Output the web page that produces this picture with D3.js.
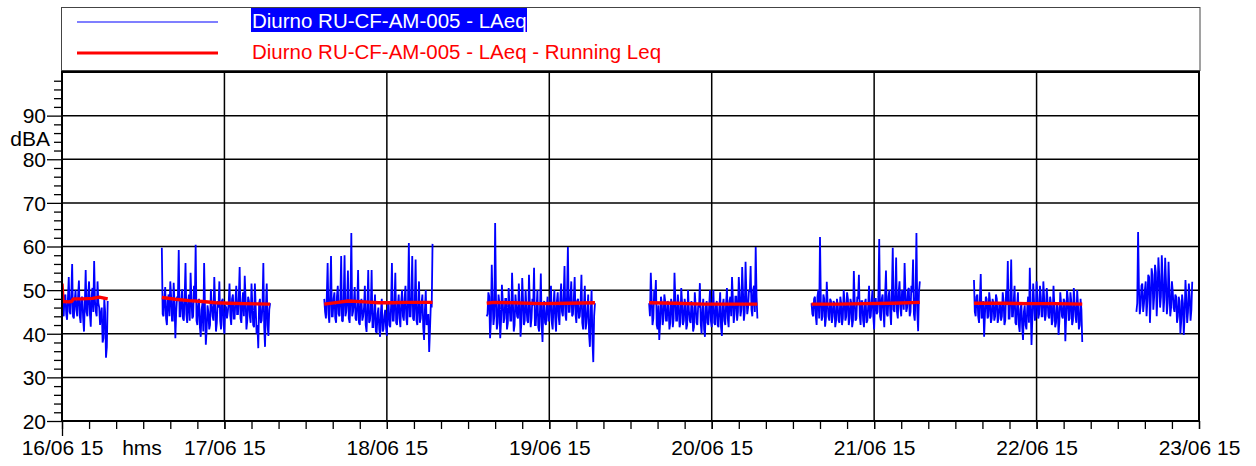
<!DOCTYPE html>
<html>
<head>
<meta charset="utf-8">
<script src="https://cdn.jsdelivr.net/npm/d3@7"></script>
<style>
  body { margin: 0; background: #fff; }
  svg { display: block; font-family: "Liberation Sans", Arial, sans-serif; }
</style>
</head>
<body>
<svg id="chart" width="1256" height="466"></svg>
<script>
// ---- data ----
const legendLabels = ["Diurno RU-CF-AM-005 - LAeq", "Diurno RU-CF-AM-005 - LAeq - Running Leq"];
const yTicks = [20, 30, 40, 50, 60, 70, 80, 90];
const dayTicks = ["2015-06-16", "2015-06-17", "2015-06-18", "2015-06-19", "2015-06-20", "2015-06-21", "2015-06-22", "2015-06-23"];
const sampleStepMin = 15;

// start of each measurement block
const segStarts = ["2015-06-16T00:00", "2015-06-16T14:45", "2015-06-17T14:45", "2015-06-18T14:45",
  "2015-06-19T14:45", "2015-06-20T14:45", "2015-06-21T14:45", "2015-06-22T14:45"];

// LAeq samples on the quarter hour, one array per block
const laeq1 = [51.5, 44.0, 49.0, 43.2, 53.0, 44.5, 56.0, 43.5, 50.0, 44.0, 52.2, 42.5, 48.5, 40.5, 54.6, 44.0, 52.0, 41.6, 50.5, 56.7, 45.0, 52.0, 46.0, 44.5, 38.0, 48.0, 34.5, 47.5];
const laeq2 = [59.7, 44.0, 50.7, 42.0, 49.0, 52.0, 43.0, 51.7, 39.0, 48.5, 59.2, 44.0, 50.2, 43.0, 56.2, 42.5, 49.0, 54.0, 43.5, 51.0, 60.4, 42.0, 48.0, 39.3, 47.0, 56.2, 37.5, 46.5, 41.0, 50.2, 44.0, 53.0, 40.5, 47.5, 52.0, 41.0, 48.0, 40.0, 46.0, 45.0, 51.5, 42.0, 49.0, 43.5, 51.0, 44.5, 55.3, 42.5, 49.5, 53.3, 41.0, 48.5, 44.0, 51.5, 42.0, 51.5, 40.0, 36.7, 48.0, 43.0, 56.2, 37.0, 51.5, 39.5, 47.0];
const laeq3 = [48.0, 43.5, 56.2, 42.5, 57.8, 44.0, 49.5, 42.5, 51.0, 44.0, 57.8, 42.8, 58.0, 45.0, 54.5, 42.5, 63.1, 45.0, 50.7, 43.0, 54.6, 42.0, 48.0, 44.0, 51.0, 40.4, 54.6, 43.0, 54.6, 41.5, 49.0, 40.2, 46.0, 39.3, 48.0, 41.0, 45.5, 39.5, 47.5, 41.5, 56.2, 43.0, 54.0, 42.0, 49.0, 41.5, 50.0, 43.0, 51.0, 42.0, 60.8, 44.0, 57.8, 43.0, 57.0, 42.0, 52.0, 43.5, 49.0, 38.6, 50.0, 42.5, 35.8, 47.0, 60.6];
const laeq4 = [44.0, 49.5, 39.0, 55.8, 42.0, 65.4, 41.0, 49.0, 39.0, 51.2, 42.5, 48.0, 41.0, 50.5, 43.0, 54.0, 40.5, 49.0, 44.0, 51.5, 39.3, 52.8, 42.0, 50.0, 43.0, 53.5, 41.5, 48.0, 55.1, 42.0, 50.0, 40.5, 53.8, 38.1, 47.5, 42.0, 48.5, 43.0, 51.0, 41.0, 50.0, 40.5, 49.5, 42.0, 51.5, 44.0, 55.5, 43.0, 59.9, 45.0, 52.0, 44.5, 53.0, 42.5, 48.0, 44.0, 53.5, 41.0, 51.0, 42.5, 49.0, 37.0, 50.0, 33.5, 47.0];
const laeq5 = [47.0, 54.0, 42.0, 50.0, 52.3, 41.0, 38.6, 48.5, 42.0, 49.0, 43.0, 47.5, 41.0, 48.0, 41.5, 54.0, 43.0, 49.0, 41.5, 50.5, 42.0, 48.0, 41.0, 50.0, 43.0, 47.5, 40.5, 49.5, 42.5, 46.5, 51.6, 40.0, 48.0, 39.3, 47.5, 42.0, 50.0, 41.5, 50.0, 42.0, 47.5, 41.5, 49.5, 39.5, 48.0, 42.0, 50.5, 41.5, 48.5, 53.0, 42.5, 48.5, 43.0, 53.0, 44.0, 55.3, 43.0, 56.5, 44.5, 50.0, 55.5, 44.0, 51.0, 59.9, 43.5];
const laeq6 = [47.0, 44.0, 48.5, 42.0, 50.0, 62.2, 43.0, 49.0, 41.6, 51.9, 44.0, 48.0, 42.5, 47.5, 41.5, 48.0, 43.0, 48.5, 42.0, 50.0, 43.0, 49.5, 42.0, 48.0, 41.5, 54.4, 43.0, 48.5, 53.5, 42.0, 47.5, 41.5, 48.0, 43.0, 51.0, 44.0, 50.0, 41.0, 48.0, 45.0, 61.7, 43.0, 49.0, 41.5, 54.5, 44.0, 50.0, 42.0, 59.7, 45.0, 57.5, 43.5, 52.0, 44.0, 49.0, 56.2, 45.0, 50.0, 44.0, 51.0, 57.0, 43.0, 63.1, 40.6, 52.0];
const laeq7 = [52.3, 44.0, 49.0, 42.5, 53.7, 44.0, 39.3, 48.5, 43.5, 49.5, 42.5, 48.0, 43.0, 49.0, 42.5, 47.0, 43.0, 49.5, 42.0, 50.0, 56.7, 43.5, 57.0, 44.0, 51.0, 42.0, 49.5, 40.4, 47.0, 38.6, 46.5, 41.0, 48.5, 55.1, 37.4, 51.5, 43.0, 52.0, 43.5, 51.0, 44.0, 52.0, 43.0, 50.5, 44.0, 48.5, 42.0, 51.0, 41.5, 47.0, 39.7, 49.5, 44.0, 48.0, 38.3, 50.0, 43.0, 49.5, 42.0, 50.5, 44.0, 50.0, 41.0, 48.0, 38.1];
const laeq8 = [45.0, 63.3, 44.5, 51.0, 45.0, 50.0, 44.0, 53.5, 42.5, 55.0, 45.5, 55.8, 44.0, 57.5, 46.0, 58.0, 45.0, 57.4, 44.5, 56.5, 44.0, 52.0, 46.0, 49.0, 42.5, 48.5, 40.0, 49.0, 39.7, 52.3, 42.5, 51.5, 43.0, 51.9];
const laeqBlocks = [laeq1, laeq2, laeq3, laeq4, laeq5, laeq6, laeq7, laeq8];

// LAeq samples half way between the quarter hours (xx:07:30, xx:22:30 ...)
const laeqMid1 = [45.0, 48.5, 44.5, 48.0, 45.0, 49.0, 44.0, 47.5, 45.5, 48.5, 44.0, 48.0, 43.5, 47.0, 45.0, 49.0, 44.5, 48.5, 45.0, 47.5, 44.0, 47.0, 42.0, 46.0, 39.0, 45.0, 37.0];
const laeqMid2 = [44.5, 48.0, 43.5, 47.5, 44.0, 48.5, 43.0, 47.0, 45.0, 48.0, 44.0, 47.5, 43.5, 48.5, 44.5, 47.0, 43.0, 48.0, 44.0, 47.5, 43.0, 46.5, 41.5, 45.5, 40.5, 46.0, 41.0, 45.0, 42.0, 46.5, 43.0, 47.0, 42.5, 46.0, 43.0, 47.5, 42.0, 46.5, 43.5, 47.0, 44.0, 48.0, 43.5, 47.5, 44.5, 48.5, 43.5, 47.0, 44.0, 48.0, 43.0, 47.5, 42.5, 46.5, 41.5, 46.0, 42.0, 47.0, 42.5, 46.5, 41.5, 46.0, 42.0, 45.5];
const laeqMid3 = [45.0, 48.5, 44.5, 49.0, 44.0, 48.0, 43.5, 48.5, 44.5, 47.5, 43.0, 48.0, 44.0, 47.5, 43.5, 48.0, 44.0, 47.0, 43.5, 46.5, 42.5, 47.0, 43.0, 46.0, 42.0, 46.5, 42.5, 45.5, 41.5, 45.0, 40.5, 44.5, 41.0, 45.0, 40.5, 44.0, 41.5, 45.5, 42.0, 46.5, 43.0, 47.0, 42.5, 46.5, 43.5, 47.5, 44.0, 48.0, 43.5, 47.5, 44.0, 48.5, 43.5, 47.0, 43.0, 46.5, 42.5, 47.0, 41.5, 45.5, 42.0, 44.5, 41.0, 46.0];
const laeqMid4 = [44.5, 48.5, 43.0, 47.5, 44.0, 48.0, 42.5, 47.0, 43.0, 47.5, 43.5, 48.0, 42.5, 46.5, 43.0, 47.5, 42.0, 46.5, 43.5, 47.0, 42.5, 47.5, 43.0, 46.0, 42.5, 47.0, 43.5, 46.5, 42.0, 46.0, 41.5, 45.5, 42.0, 46.5, 42.5, 46.0, 43.0, 47.0, 42.5, 46.5, 43.5, 47.5, 44.0, 48.0, 45.0, 48.5, 44.5, 49.0, 45.0, 48.5, 44.0, 48.0, 44.5, 47.5, 43.5, 47.0, 42.5, 46.5, 41.0, 45.5, 40.0, 45.0, 38.5, 44.0];
const laeqMid5 = [44.0, 48.0, 43.5, 47.5, 42.0, 46.5, 42.5, 47.0, 43.5, 47.5, 43.0, 46.5, 42.5, 47.0, 43.5, 48.0, 43.0, 46.5, 42.5, 47.0, 43.0, 46.5, 42.0, 45.5, 42.5, 46.0, 41.5, 46.5, 42.0, 46.0, 42.5, 45.5, 41.0, 46.0, 42.5, 46.5, 43.0, 47.0, 42.5, 46.5, 42.0, 46.0, 41.5, 46.5, 43.0, 47.0, 43.5, 47.5, 44.0, 48.0, 44.5, 48.5, 45.0, 49.0, 45.5, 49.5, 45.0, 49.0, 46.0, 49.5, 45.5, 50.0, 45.0, 48.5];
const laeqMid6 = [44.5, 48.0, 44.0, 48.5, 43.5, 47.5, 44.0, 48.0, 43.5, 47.0, 43.0, 47.5, 44.0, 47.0, 43.0, 46.5, 42.5, 47.0, 43.5, 47.5, 44.0, 48.0, 43.5, 47.0, 43.0, 47.5, 43.5, 48.0, 44.0, 47.5, 43.0, 47.0, 42.5, 46.5, 43.5, 47.5, 44.0, 48.0, 44.5, 48.5, 44.0, 48.0, 45.0, 49.0, 44.5, 48.5, 45.0, 49.5, 45.5, 49.0, 45.0, 49.5, 46.0, 50.0, 45.5, 49.5, 46.0, 50.5, 45.0, 49.5, 44.5, 49.0, 45.0, 49.5];
const laeqMid7 = [45.0, 48.5, 44.0, 48.0, 43.5, 47.5, 44.5, 48.0, 44.0, 47.5, 43.5, 47.0, 44.0, 48.0, 43.5, 47.0, 44.0, 47.5, 43.0, 47.0, 43.5, 48.0, 44.0, 47.5, 42.5, 46.5, 42.0, 45.5, 41.5, 45.0, 42.0, 46.0, 42.5, 46.5, 43.5, 47.5, 44.0, 48.0, 44.5, 48.5, 44.0, 48.0, 44.5, 47.5, 43.5, 47.0, 43.0, 46.5, 42.5, 46.0, 43.0, 47.0, 43.5, 47.5, 44.0, 48.0, 43.5, 47.5, 43.0, 47.0, 42.5, 46.5, 42.0, 45.5];
const laeqMid8 = [47.0, 50.5, 46.5, 51.5, 47.0, 52.0, 47.5, 53.0, 48.0, 53.5, 48.5, 54.0, 49.0, 53.5, 48.5, 53.0, 48.0, 52.0, 47.0, 50.5, 46.0, 49.5, 45.0, 48.5, 44.0, 47.5, 43.0, 47.0, 44.0, 48.0, 45.0, 48.5, 45.5];
const laeqMidBlocks = [laeqMid1, laeqMid2, laeqMid3, laeqMid4, laeqMid5, laeqMid6, laeqMid7, laeqMid8];

// Running Leq: [hours from block start, dBA]
const run1 = [[0, 51.5], [0.15, 47.4], [1, 47.3], [1.4, 47.4], [1.7, 48.0], [3, 48.0], [4.5, 48.1], [5.5, 48.4], [6.75, 48.0]];
const run2 = [[0, 48.3], [2, 47.9], [4, 47.6], [6, 47.4], [8, 47.1], [10, 47.0], [12, 46.9], [14, 46.85], [16, 46.8]];
const run3 = [[0, 46.8], [2, 47.2], [3.5, 47.5], [6, 47.3], [8, 47.1], [10, 47.1], [12, 47.2], [16, 47.2]];
const run4 = [[0, 47.0], [1, 47.2], [4, 47.1], [8, 46.9], [12, 47.0], [16, 47.1]];
const run5 = [[0, 47.1], [4, 47.0], [8, 46.8], [12, 46.8], [16, 46.8]];
const run6 = [[0, 46.8], [4, 46.8], [8, 46.9], [12, 47.0], [16, 47.2]];
const run7 = [[0, 47.0], [4, 47.0], [8, 46.9], [12, 46.9], [16, 46.8]];
const runBlocks = [run1, run2, run3, run4, run5, run6, run7];

// ---- setup ----
const svg = d3.select("#chart");
const plot = { left: 62, top: 72, right: 1199, bottom: 421 };
const parseT = d3.timeParse("%Y-%m-%dT%H:%M");
const parseD = d3.timeParse("%Y-%m-%d");
const days = dayTicks.map(parseD);

const x = d3.scaleTime().domain([days[0], days[days.length - 1]]).range([plot.left, plot.right]);
const y = d3.scaleLinear().domain([20, 100]).range([plot.bottom, plot.top]);

const stepMs = sampleStepMin * 60000;
const blueData = laeqBlocks.map((vals, i) => {
  const t0 = parseT(segStarts[i]).getTime();
  const mids = laeqMidBlocks[i];
  const pts = [];
  vals.forEach((v, j) => {
    pts.push({ t: new Date(t0 + j * stepMs), v: v });
    if (j < mids.length) pts.push({ t: new Date(t0 + (j + 0.5) * stepMs), v: mids[j] });
  });
  return pts;
});
const redData = runBlocks.map((pts, i) => {
  const t0 = parseT(segStarts[i]);
  return pts.map(p => ({ t: new Date(t0.getTime() + p[0] * 3600000), v: p[1] }));
});

// ---- legend ----
const leg = svg.append("g").attr("class", "legend");
leg.append("rect")
  .attr("x", 61.5).attr("y", 7.5).attr("width", 1138.5).attr("height", 63)
  .attr("fill", "#fff").attr("stroke", "#444").attr("stroke-width", 1);
leg.append("line").attr("x1", 77).attr("x2", 218).attr("y1", 22).attr("y2", 22)
  .attr("stroke", "#0000ff").attr("stroke-width", 1.2);
leg.append("line").attr("x1", 77).attr("x2", 218).attr("y1", 53).attr("y2", 53)
  .attr("stroke", "#ff0000").attr("stroke-width", 3.2);
leg.append("rect").attr("x", 251).attr("y", 8).attr("width", 276).attr("height", 24)
  .attr("fill", "#0000ff");
leg.append("text").attr("x", 252).attr("y", 27.5).attr("fill", "#fff")
  .style("font-size", "20.5px").text(legendLabels[0]);
leg.append("text").attr("x", 252).attr("y", 58.5).attr("fill", "#ff0000")
  .style("font-size", "20.5px").text(legendLabels[1]);

// ---- grid ----
const grid = svg.append("g").attr("class", "grid");
grid.selectAll("line.h").data(yTicks.filter(d => d > 20)).join("line")
  .attr("class", "h")
  .attr("x1", plot.left).attr("x2", plot.right)
  .attr("y1", d => y(d)).attr("y2", d => y(d))
  .attr("stroke", "#000").attr("stroke-width", 1.5);
grid.selectAll("line.v").data(days.slice(1, -1)).join("line")
  .attr("class", "v")
  .attr("x1", d => x(d)).attr("x2", d => x(d))
  .attr("y1", plot.top).attr("y2", plot.bottom)
  .attr("stroke", "#000").attr("stroke-width", 1.5);

// ---- series ----
svg.append("clipPath").attr("id", "clip").append("rect")
  .attr("x", plot.left).attr("y", plot.top)
  .attr("width", plot.right - plot.left).attr("height", plot.bottom - plot.top);

const line = d3.line().x(d => x(d.t)).y(d => y(d.v));
const series = svg.append("g").attr("clip-path", "url(#clip)");
series.selectAll("path.laeq").data(blueData).join("path")
  .attr("class", "laeq")
  .attr("d", line)
  .attr("fill", "none").attr("stroke", "#0000ff").attr("stroke-width", 1.8)
  .attr("stroke-linejoin", "miter").attr("stroke-miterlimit", 2);
series.selectAll("path.run").data(redData).join("path")
  .attr("class", "run")
  .attr("d", line)
  .attr("fill", "none").attr("stroke", "#ff0000").attr("stroke-width", 3.4)
  .attr("stroke-linejoin", "round");

// ---- frame ----
svg.append("rect")
  .attr("x", plot.left).attr("y", plot.top)
  .attr("width", plot.right - plot.left).attr("height", plot.bottom - plot.top)
  .attr("fill", "none").attr("stroke", "#000").attr("stroke-width", 2);

// ---- axes ----
const minorY = d3.range(22, 100, 2).filter(d => d % 10 !== 0);
const yMinor = svg.append("g").attr("transform", `translate(${plot.left},0)`)
  .call(d3.axisLeft(y).tickValues(minorY).tickSize(8).tickFormat(""));
const yMajor = svg.append("g").attr("transform", `translate(${plot.left},0)`)
  .call(d3.axisLeft(y).tickValues(yTicks).tickSize(15).tickPadding(1));
[yMinor, yMajor].forEach(g => {
  g.select(".domain").remove();
  g.selectAll("line").attr("stroke", "#000").attr("stroke-width", 1.3);
});
yMajor.selectAll("text").attr("fill", "#000").style("font-size", "21px").attr("dy", "0.35em");

svg.append("text").attr("x", 50).attr("y", 146).attr("text-anchor", "end")
  .attr("fill", "#000").style("font-size", "21px").text("dBA");

const xMinor = svg.append("g").attr("transform", `translate(0,${plot.bottom})`)
  .call(d3.axisBottom(x).ticks(d3.timeHour.every(4)).tickSize(8).tickFormat(""));
const xMajor = svg.append("g").attr("transform", `translate(0,${plot.bottom})`)
  .call(d3.axisBottom(x).tickValues(days).tickSize(8).tickPadding(11)
    .tickFormat(d3.timeFormat("%d/%m %y")));
[xMinor, xMajor].forEach(g => {
  g.select(".domain").remove();
  g.selectAll("line").attr("stroke", "#000").attr("stroke-width", 1.3);
});
xMajor.select(".tick line").attr("y2", 15);
xMajor.selectAll("text").attr("fill", "#000").style("font-size", "21px").attr("dy", "0.71em");

svg.append("text").attr("x", 142).attr("y", 455).attr("text-anchor", "middle")
  .attr("fill", "#000").style("font-size", "21px").text("hms");
</script>
</body>
</html>
